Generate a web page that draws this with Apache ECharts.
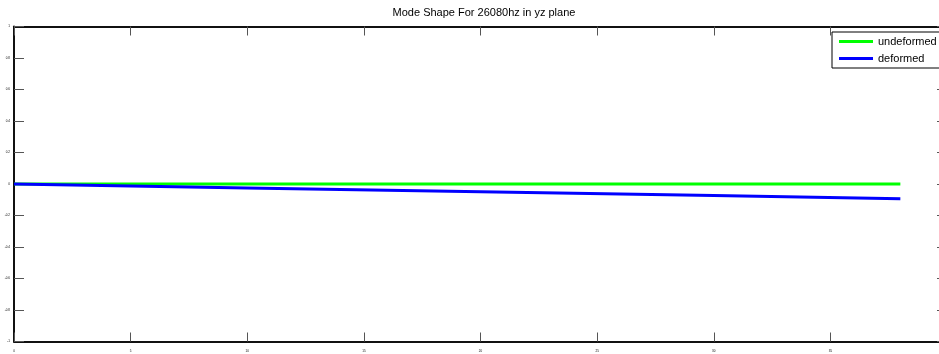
<!DOCTYPE html>
<html>
<head>
<meta charset="utf-8">
<script src="https://cdn.jsdelivr.net/npm/echarts@6/dist/echarts.min.js"></script>
<style>
html,body{margin:0;padding:0;background:#fff;}
#chart{width:939px;height:354px;}
</style>
</head>
<body>
<div id="chart"></div>
<script>
// Data
var titleText = 'Mode Shape For 26080hz in yz plane';
var seriesNames = ['undeformed', 'deformed'];
var undeformedX = [0, 38];
var undeformedY = [0, 0];
var deformedX = [0, 10, 20, 30, 38];
var deformedY = [0, -0.025, -0.049, -0.073, -0.093];
var xMin = 0, xMax = 40, xStep = 5;
var yMin = -1, yMax = 1, yStep = 0.2;

function pairs(xs, ys) { return xs.map(function (x, i) { return [x, ys[i]]; }); }

var axisLineStyle = { color: '#111', width: 2 };
var tickStyle = { color: '#555', width: 1 };
var font = "'Liberation Sans', Arial, sans-serif";

var chart = echarts.init(document.getElementById('chart'), null, { renderer: 'canvas' });
chart.setOption({
  animation: false,
  backgroundColor: '#fff',
  title: {
    text: titleText,
    left: 484,
    top: 7,
    padding: 0,
    textAlign: 'center',
    textStyle: { fontSize: 11, fontWeight: 'normal', color: '#000', fontFamily: font }
  },
  legend: {
    orient: 'vertical',
    left: 832,
    top: 32,
    padding: [4, 6, 4, 7],
    itemGap: 6,
    itemWidth: 34,
    itemHeight: 3,
    icon: 'rect',
    borderColor: '#000',
    borderWidth: 1,
    backgroundColor: '#fff',
    data: seriesNames,
    textStyle: { fontSize: 11, color: '#000', fontFamily: font }
  },
  grid: { left: 14, width: 933, top: 26.5, height: 315, containLabel: false, outerBoundsMode: 'none' },
  xAxis: [{
    type: 'value', min: xMin, max: xMax, interval: xStep,
    axisLine: { show: true, onZero: false, lineStyle: axisLineStyle },
    axisTick: { show: true, inside: true, length: 9, lineStyle: tickStyle },
    axisLabel: { show: true, fontSize: 3, color: '#000', margin: 8, fontFamily: font },
    splitLine: { show: false }
  }, {
    type: 'value', position: 'top', min: xMin, max: xMax, interval: xStep,
    axisLine: { show: true, onZero: false, lineStyle: axisLineStyle },
    axisTick: { show: true, inside: true, length: 9, lineStyle: tickStyle },
    axisLabel: { show: false },
    splitLine: { show: false }
  }],
  yAxis: [{
    type: 'value', min: yMin, max: yMax, interval: yStep,
    axisLine: { show: true, onZero: false, lineStyle: axisLineStyle },
    axisTick: { show: true, inside: true, length: 10, lineStyle: tickStyle },
    axisLabel: { show: true, fontSize: 3, color: '#000', margin: 4, fontFamily: font },
    splitLine: { show: false }
  }, {
    type: 'value', position: 'right', min: yMin, max: yMax, interval: yStep,
    axisLine: { show: true, onZero: false, lineStyle: axisLineStyle },
    axisTick: { show: true, inside: true, length: 10, lineStyle: tickStyle },
    axisLabel: { show: false },
    splitLine: { show: false }
  }],
  series: [{
    name: seriesNames[0], type: 'line', xAxisIndex: 0, yAxisIndex: 0,
    data: pairs(undeformedX, undeformedY),
    showSymbol: false, symbol: 'none',
    color: '#00ff00',
    lineStyle: { color: '#00ff00', width: 3 }
  }, {
    name: seriesNames[1], type: 'line', xAxisIndex: 0, yAxisIndex: 0,
    data: pairs(deformedX, deformedY),
    showSymbol: false, symbol: 'none',
    color: '#0000ff',
    lineStyle: { color: '#0000ff', width: 3 }
  }]
});
</script>
</body>
</html>
